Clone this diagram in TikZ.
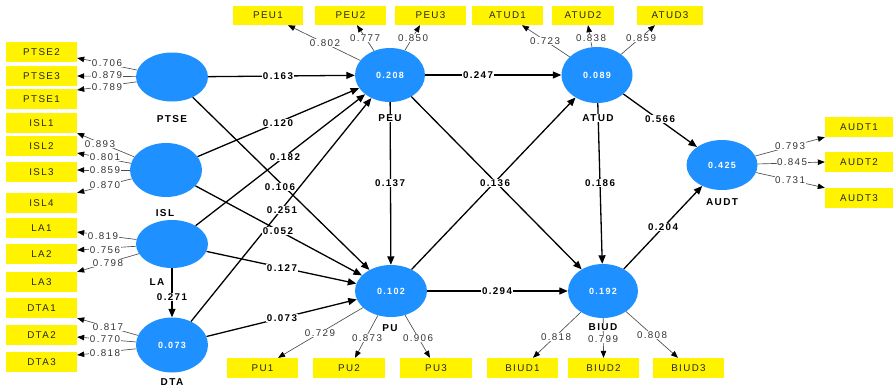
\documentclass[tikz,border=0pt]{standalone}
\usepackage{fontspec}
\setmainfont{Liberation Sans}
\newfontfamily\plsfont[LetterSpace=14]{Liberation Sans}
\usetikzlibrary{shapes.geometric,arrows.meta}
\definecolor{plsblue}{RGB}{30,144,255}
\definecolor{plsyellow}{RGB}{255,243,0}
\begin{document}
\begin{tikzpicture}[x=1pt,y=-1pt,
  lat/.style={ellipse, fill=plsblue, inner sep=0pt, text=white, font=\plsfont\bfseries\fontsize{9}{10}\selectfont},
  ind/.style={rectangle, fill=plsyellow, inner sep=0pt, minimum height=20pt, minimum width=71pt, text=black!85, font=\plsfont\fontsize{9.8}{10}\selectfont},
  topind/.style={ind, minimum height=19pt},
  latname/.style={fill=white, inner sep=1pt, font=\plsfont\bfseries\fontsize{10}{11}\selectfont},
  coef/.style={fill=white, inner sep=1pt, font=\plsfont\bfseries\fontsize{9.8}{10}\selectfont},
  ldval/.style={fill=white, inner sep=0.5pt, text=black!80, font=\plsfont\fontsize{9.8}{10}\selectfont},
  pth/.style={draw=black, line width=1.3pt, -{Triangle[length=8.5pt,width=7pt]}},
  ld/.style={draw=black!70, line width=0.65pt, -{Triangle[length=7pt,width=5.5pt,color=black]}}
]
\useasboundingbox (0,0) rectangle (893,389);

% latent variables
\node[lat, minimum width=72pt, minimum height=49pt] (ptse) at (172,77) {};
\node[lat, minimum width=72pt, minimum height=54pt] (isl) at (166,170) {};
\node[lat, minimum width=72pt, minimum height=48pt] (la) at (172,244) {};
\node[lat, minimum width=72pt, minimum height=55pt] (dta) at (172,345) {0.073};
\node[lat, minimum width=70pt, minimum height=54pt] (peu) at (390,75) {0.208};
\node[lat, minimum width=71pt, minimum height=56pt] (atud) at (597,75) {0.089};
\node[lat, minimum width=71pt, minimum height=50pt] (audt) at (722,165) {0.425};
\node[lat, minimum width=72pt, minimum height=52pt] (pu) at (391,291) {0.102};
\node[lat, minimum width=70pt, minimum height=54pt] (biud) at (603,291) {0.192};

% indicators left
\node[ind] (ptse2) at (41.5,52) {PTSE2};
\node[ind] (ptse3) at (41.5,76) {PTSE3};
\node[ind] (ptse1) at (41.5,99) {PTSE1};
\node[ind] (isl1) at (41.5,123) {ISL1};
\node[ind] (isl2) at (41.5,146) {ISL2};
\node[ind] (isl3) at (41.5,172) {ISL3};
\node[ind] (isl4) at (41.5,203) {ISL4};
\node[ind] (la1) at (41.5,228) {LA1};
\node[ind] (la2) at (41.5,254) {LA2};
\node[ind] (la3) at (41.5,282) {LA3};
\node[ind] (dta1) at (41.5,308) {DTA1};
\node[ind] (dta2) at (41.5,335) {DTA2};
\node[ind] (dta3) at (41.5,362) {DTA3};
% indicators top
\node[topind, minimum width=70pt] (peu1) at (268,15.5) {PEU1};
\node[topind] (peu2) at (350.5,15.5) {PEU2};
\node[topind] (peu3) at (430.5,15.5) {PEU3};
\node[topind] (atud1) at (507.5,15.5) {ATUD1};
\node[topind, minimum width=62pt] (atud2) at (583,15.5) {ATUD2};
\node[topind, minimum width=66pt] (atud3) at (670,15.5) {ATUD3};
% indicators right
\node[ind, minimum width=68pt] (audt1) at (859,127) {AUDT1};
\node[ind, minimum width=68pt] (audt2) at (859,162) {AUDT2};
\node[ind, minimum width=68pt] (audt3) at (859,198) {AUDT3};
% indicators bottom
\node[ind] (pu1) at (262.5,368) {PU1};
\node[ind, minimum width=72pt] (pu2) at (349,368) {PU2};
\node[ind, minimum width=72pt] (pu3) at (436,368) {PU3};
\node[ind] (biud1) at (522.5,368) {BIUD1};
\node[ind] (biud2) at (603.5,368) {BIUD2};
\node[ind] (biud3) at (688.5,368) {BIUD3};

% loadings
\draw[ld] (ptse) -- ([yshift=-6pt]ptse2.east);
\draw[ld] (ptse) -- (ptse3.east);
\draw[ld] (ptse) -- ([yshift=9pt]ptse1.east);
\draw[ld] (isl) -- (isl1.south east);
\draw[ld] (isl) -- ([yshift=-7pt]isl2.east);
\draw[ld] (isl) -- ([yshift=2pt]isl3.east);
\draw[ld] (isl) -- (isl4.north east);
\draw[ld] (la) -- ([yshift=-4pt]la1.east);
\draw[ld] (la) -- ([yshift=4pt]la2.east);
\draw[ld] (la) -- (la3.north east);
\draw[ld] (dta) -- (dta1.south east);
\draw[ld] (dta) -- ([yshift=-2pt]dta2.east);
\draw[ld] (dta) -- ([yshift=7pt]dta3.east);
\draw[ld] (peu) -- ([xshift=20pt]peu1.south);
\draw[ld] (peu) -- ([xshift=6.5pt]peu2.south);
\draw[ld] (peu) -- ([xshift=-10.5pt]peu3.south);
\draw[ld] (atud) -- ([xshift=14.5pt]atud1.south);
\draw[ld] (atud) -- ([xshift=5pt]atud2.south);
\draw[ld] (atud) -- ([xshift=-15pt]atud3.south);
\draw[ld] (audt) -- (audt1.south west);
\draw[ld] (audt) -- (audt2.west);
\draw[ld] (audt) -- (audt3.north west);
\draw[ld] (pu) -- ([xshift=15.5pt]pu1.north);
\draw[ld] (pu) -- ([xshift=6pt]pu2.north);
\draw[ld] (pu) -- ([xshift=-6pt]pu3.north);
\draw[ld] (biud) -- ([xshift=10.5pt]biud1.north);
\draw[ld] (biud) -- (biud2.north);
\draw[ld] (biud) -- ([xshift=-10.5pt]biud3.north);

% structural paths
\draw[pth] (ptse) -- (peu);
\draw[pth] (ptse) -- (pu);
\draw[pth] (isl) -- (peu);
\draw[pth] (isl) -- (pu);
\draw[pth] (la) -- (peu);
\draw[pth] (la) -- (pu);
\draw[pth] (la) -- (dta);
\draw[pth] (dta) -- (peu);
\draw[pth] (dta) -- (pu);
\draw[pth] (peu) -- (atud);
\draw[pth] (peu) -- (pu);
\draw[pth] (peu) -- (biud);
\draw[pth] (pu) -- (atud);
\draw[pth] (pu) -- (biud);
\draw[pth] (atud) -- (biud);
\draw[pth] (atud) -- (audt);
\draw[pth] (biud) -- (audt);

% loading values
\node[ldval] (v1) at (107,63) {0.706};
\node[ldval] (v2) at (107,75) {0.879};
\node[ldval] (v3) at (107,87) {0.789};
\node[ldval] (v4) at (100,144) {0.893};
\node[ldval] (v5) at (105,157) {0.801};
\node[ldval] (v6) at (105,170) {0.859};
\node[ldval] (v7) at (105,185) {0.870};
\node[ldval] (v8) at (103,236) {0.819};
\node[ldval] (v9) at (105,250) {0.756};
\node[ldval] (v10) at (108,263) {0.798};
\node[ldval] (v11) at (108,327) {0.817};
\node[ldval] (v12) at (105,339) {0.770};
\node[ldval] (v13) at (105,353) {0.818};
\node[ldval] (v14) at (325,43) {0.802};
\node[ldval] (v15) at (365,38) {0.777};
\node[ldval] (v16) at (413,38) {0.850};
\node[ldval] (v17) at (545,41) {0.723};
\node[ldval] (v18) at (591,38) {0.838};
\node[ldval] (v19) at (641,38) {0.859};
\node[ldval] (v20) at (790,146) {0.793};
\node[ldval] (v21) at (792,162) {0.845};
\node[ldval] (v22) at (790,180) {0.731};
\node[ldval] (v23) at (320,333) {0.729};
\node[ldval] (v24) at (367,338) {0.873};
\node[ldval] (v25) at (418,338) {0.906};
\node[ldval] (v26) at (556,337) {0.818};
\node[ldval] (v27) at (603,339) {0.799};
\node[ldval] (v28) at (652,335) {0.808};

% path coefficients
\node[coef] (c1) at (278,76) {0.163};
\node[coef] (c2) at (278,123) {0.120};
\node[coef] (c3) at (285,157) {0.182};
\node[coef] (c4) at (280,187) {0.106};
\node[coef] (c5) at (282,210) {0.251};
\node[coef] (c6) at (278,231) {0.052};
\node[coef] (c7) at (282,268) {0.127};
\node[coef] (c8) at (282,318) {0.073};
\node[coef] (c9) at (172,297) {0.271};
\node[coef] (c10) at (478,75) {0.247};
\node[coef] (c11) at (390,183) {0.137};
\node[coef] (c12) at (495,183) {0.136};
\node[coef] (c13) at (600,183) {0.186};
\node[coef] (c14) at (497,291) {0.294};
\node[coef] (c15) at (660,119) {0.566};
\node[coef] (c16) at (663,227) {0.204};

% latent names
\node[latname] (nptse) at (172,119) {PTSE};
\node[latname] (nisl) at (165,213) {ISL};
\node[latname] (nla) at (157,282) {LA};
\node[latname] (ndta) at (172,382) {DTA};
\node[latname] (npeu) at (390,118) {PEU};
\node[latname] (natud) at (598,118) {ATUD};
\node[latname] (naudt) at (722,202) {AUDT};
\node[latname] (npu) at (390,328) {PU};
\node[latname] (nbiud) at (603,327) {BIUD};
\end{tikzpicture}
\end{document}
